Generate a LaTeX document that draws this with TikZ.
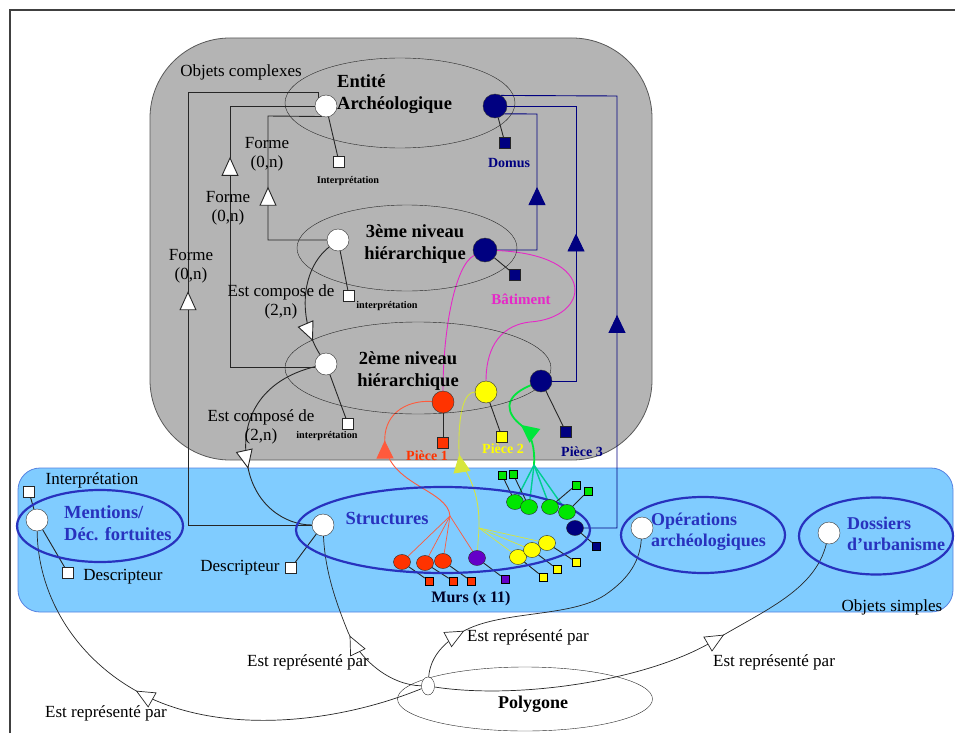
\documentclass[tikz,border=0pt]{standalone}
\usepackage{fontspec}
\setmainfont{Liberation Serif}
\usepackage{tikz}
\usetikzlibrary{shapes.geometric,arrows.meta,decorations.markings}

\definecolor{fondgris}{RGB}{180,180,180}
\definecolor{fondbleu}{RGB}{128,204,255}
\definecolor{bordbleu}{RGB}{85,130,225}
\definecolor{bleuel}{RGB}{40,50,190}
\definecolor{marine}{RGB}{0,0,128}
\definecolor{rouge}{RGB}{255,51,0}
\definecolor{rougel}{RGB}{255,90,60}
\definecolor{jaune}{RGB}{255,255,0}
\definecolor{jaunel}{RGB}{215,230,60}
\definecolor{vert}{RGB}{0,230,0}
\definecolor{vertl}{RGB}{0,205,145}
\definecolor{vertf}{RGB}{0,230,60}
\definecolor{rose}{RGB}{230,40,200}
\definecolor{violet2}{RGB}{100,0,200}

\pgfdeclarelayer{fond}
\pgfsetlayers{fond,main}

\tikzset{
  ell/.style={ellipse,draw=black!85,inner sep=0pt},
  ellb/.style={ellipse,draw=bleuel,line width=2.2pt,inner sep=0pt},
  rond/.style={circle,draw=black!80,fill=#1,minimum size=22,inner sep=0pt},
  carre/.style={rectangle,draw=black!85,fill=#1,minimum size=11,inner sep=0pt},
  pastille/.style={ellipse,draw=black!85,fill=#1,minimum width=17,minimum height=15,inner sep=0pt},
  pcarre/.style={rectangle,draw=black,fill=#1,minimum size=8,inner sep=0pt},
  lbl/.style={font=\fontsize{17}{19}\selectfont,align=center,inner sep=0pt},
  titre/.style={font=\fontsize{18.5}{22}\selectfont\bfseries,inner sep=0pt},
  minus/.style={font=\fontsize{10.2}{11}\selectfont\bfseries,inner sep=0pt},
  piece/.style={font=\fontsize{14}{15}\selectfont\bfseries,inner sep=0pt},
  lien/.style={draw=black!85,line width=0.9pt},
  lienf/.style={draw=black!85,line width=0.7pt},
  lienm/.style={draw=marine,line width=0.9pt},
  tri/.style={postaction={decorate},decoration={markings,
      mark=at position #1 with {\arrow{Triangle[fill=white,length=19pt,width=17pt]}}}},
  trip/.style={postaction={decorate},decoration={markings,
      mark=at position #1 with {\arrow{Triangle[length=18pt,width=17pt]}}}}
}

\begin{document}
\begin{tikzpicture}[x=1pt,y=-1pt]
\useasboundingbox (0,0) rectangle (955,733);

% cadre et zones
\draw[line width=1.5pt,black!75] (10,733) -- (10,10) -- (955,10);
\begin{pgfonlayer}{fond}
\draw[fill=fondgris,draw=black!65,line width=0.8pt,rounded corners=80pt] (150,38) rectangle (652,460);
\draw[fill=fondbleu,draw=bordbleu,line width=0.8pt,rounded corners=22pt] (18,468) rectangle (953,612);
\end{pgfonlayer}

% objets complexes
\node[ell,minimum width=230,minimum height=90] (eEnt) at (400,103) {};
\node[ell,minimum width=220,minimum height=86] (eN3) at (407,248) {};
\node[ell,minimum width=266,minimum height=92] (eN2) at (418,368) {};
\node[titre,anchor=west,align=left] (tEnt) at (337,94) {Entité\\Archéologique};
\node[titre,align=center] (tN3) at (415,244) {3ème niveau\\hiérarchique};
\node[titre,align=center] (tN2) at (408,371) {2ème niveau\\hiérarchique};
\node[lbl] (tComplexes) at (241,72) {Objets complexes};

\node[rond=white] (cEntW) at (326,106) {};
\node[rond=marine,minimum size=24] (cEntB) at (495,106) {};
\node[rond=white] (cN3W) at (338,240) {};
\node[rond=marine,minimum size=24] (cN3B) at (485,250) {};
\node[rond=white] (cN2W) at (326,364) {};
\node[rond=rouge] (cN2R) at (443,402) {};
\node[rond=jaune] (cN2Y) at (486,392) {};
\node[rond=marine] (cN2B) at (541,381) {};

\node[carre=white] (sEnt) at (339,162) {};
\node[carre=marine] (sEntB) at (505,143) {};
\node[carre=white] (sN3) at (349,296) {};
\node[carre=marine] (sN3B) at (515,275) {};
\node[carre=white] (sN2) at (348,424) {};
\node[carre=rouge] (sN2R) at (443,443) {};
\node[carre=jaune] (sN2Y) at (502,437) {};
\node[carre=marine] (sN2B) at (566,432) {};

\node[minus] (iEnt) at (348,181) {Interprétation};
\node[minus] (iN3) at (387,306) {interprétation};
\node[minus] (iN2) at (327,436) {interprétation};
\node[piece,text=marine] (tDomus) at (509,163) {Domus};
\node[piece,text=rose,font=\fontsize{15}{16}\selectfont\bfseries] (tBat) at (521,299) {Bâtiment};
\node[piece,text=rouge] (tP1) at (427,456) {Pièce 1};
\node[piece,text=jaune] (tP2) at (503,449) {Pièce 2};
\node[piece,text=marine] (tP3) at (582,452) {Pièce 3};

\node[lbl] (tF1) at (267,154) {Forme\\(0,n)};
\node[lbl] (tF2) at (228,208) {Forme\\(0,n)};
\node[lbl] (tF3) at (191,266) {Forme\\(0,n)};
\node[lbl] (tC1) at (281,302) {Est compose de\\(2,n)};
\node[lbl] (tC2) at (261,427) {Est composé de\\(2,n)};

% objets simples
\node[ellb,minimum width=294,minimum height=86] (eStr) at (443,530) {};
\node[ellb,minimum width=166,minimum height=72] (eMen) at (100,526) {};
\node[ellb,minimum width=164,minimum height=76] (eOp) at (703,535) {};
\node[ellb,minimum width=154,minimum height=77] (eDos) at (876,536) {};
\node[titre,text=bleuel] (tStr) at (387,518) {Structures};
\node[titre,text=bleuel,anchor=west,align=left] (tMen) at (64,523) {Mentions/\\Déc. fortuites};
\node[titre,text=bleuel,anchor=west,align=left,font=\fontsize{18}{21}\selectfont\bfseries] (tOp) at (651,532) {Opérations\\archéologiques};
\node[titre,text=bleuel,anchor=west,align=left,font=\fontsize{18}{21}\selectfont\bfseries] (tDos) at (847,534) {Dossiers\\d'urbanisme};
\node[lbl] (tSimples) at (892,607) {Objets simples};
\node[lbl] (tInterp) at (92,480) {Interprétation};
\node[lbl] (tDesc1) at (123,577) {Descripteur};
\node[lbl] (tDesc2) at (240,568) {Descripteur};
\node[font=\fontsize{16}{17}\selectfont\bfseries,text=black!85!blue,inner sep=0pt] (tMurs) at (471,599) {Murs (x 11)};

\node[rond=white] (cStr) at (323,525) {};
\node[rond=white] (cMen) at (37,520) {};
\node[rond=white] (cOp) at (642,528) {};
\node[rond=white] (cDos) at (829,533) {};
\node[carre=white] (sStr) at (291,568) {};
\node[carre=white] (sMenI) at (29,492) {};
\node[carre=white] (sMenD) at (68,573) {};

% murs
\node[pastille=rouge] (m1) at (402,562) {};
\node[pastille=rouge] (m2) at (425,563) {};
\node[pastille=rouge] (m3) at (443,561) {};
\node[pastille=violet2] (m4) at (477,558) {};
\node[pastille=jaune] (m5) at (518,557) {};
\node[pastille=jaune] (m6) at (532,550) {};
\node[pastille=jaune] (m7) at (547,543) {};
\node[pastille=vert] (g1) at (515,502) {};
\node[pastille=vert] (g2) at (529,507) {};
\node[pastille=vert] (g3) at (550,507) {};
\node[pastille=vert] (g4) at (567,512) {};
\node[pastille=marine] (n1) at (575,528) {};
\node[pcarre=rouge] (q1) at (429,581) {};
\node[pcarre=rouge] (q2) at (453,581) {};
\node[pcarre=rouge] (q3) at (471,581) {};
\node[pcarre=violet2] (q4) at (505,579) {};
\node[pcarre=jaune] (q5) at (543,577) {};
\node[pcarre=jaune] (q6) at (557,569) {};
\node[pcarre=jaune] (q7) at (576,562) {};
\node[pcarre=vert] (k1) at (502,475) {};
\node[pcarre=vert] (k2) at (513,474) {};
\node[pcarre=vert] (k3) at (576,485) {};
\node[pcarre=vert] (k4) at (588,491) {};
\node[pcarre=marine] (k5) at (596,546) {};
\coordinate (fR) at (450,516);
\coordinate (fY) at (479,528);
\coordinate (fG) at (534,465);

% polygone
\node[ell,minimum width=255,minimum height=64] (ePoly) at (525,699) {};
\node[font=\fontsize{18}{19}\selectfont\bfseries,inner sep=0pt] (tPoly) at (533,704) {Polygone};
\node[ellipse,draw=black!85,fill=white,minimum width=13,minimum height=18,inner sep=0pt] (cPoly) at (428,686) {};
\node[lbl] (tR1) at (106,713) {Est représenté par};
\node[lbl] (tR2) at (308,662) {Est représenté par};
\node[lbl] (tR3) at (528,637) {Est représenté par};
\node[lbl] (tR4) at (774,662) {Est représenté par};

\begin{pgfonlayer}{fond}
% Forme (0,n)
\draw[lien,tri=0.516] (cStr.west) -| (188,92) -| (cEntW.135);
\draw[lien,tri=0.686] (cN2W.200) -| (230,106) -- (cEntW.west);
\draw[lien,tri=0.473] (cN3W.west) -| (268,116) -- (cEntW.250);
% Est compose de
\draw[lien,tri=0.87] (cN3W) .. controls (300,270) and (298,320) .. (cN2W);
\draw[lien,tri=0.6] (cN2W) .. controls (260,380) and (240,420) .. (247,462)
      .. controls (253,505) and (285,525) .. (cStr);
% Domus
\draw[lienm,trip=0.424] (n1.east) -| (617,96) -- (cEntB.60);
\draw[lienm,trip=0.466] (cN2B.east) -| (576,106) -- (cEntB.east);
\draw[lienm,trip=0.493] (cN3B.east) -| (537,114) -- (cEntB.-40);
% Batiment
\draw[rose,line width=0.9pt] (cN3B) .. controls (455,265) and (443,330) .. (cN2R);
\draw[rose,line width=0.9pt] (cN3B) .. controls (600,255) and (590,318) .. (530,322)
      .. controls (495,326) and (486,355) .. (cN2Y);
% Pieces
\draw[rougel,line width=0.9pt,trip=0.6] (fR) .. controls (448,490) and (390,485) .. (385,445)
      .. controls (382,415) and (405,400) .. (cN2R);
\draw[jaunel,line width=0.9pt,trip=0.53] (fY) .. controls (480,480) and (460,470) .. (459,452)
      .. controls (458,410) and (465,392) .. (cN2Y);
\draw[vertf,line width=1.8pt,trip=0.45] (fG) .. controls (535,448) and (532,434) .. (521,425)
      .. controls (508,415) and (500,398) .. (cN2B);
\foreach \m in {m1,m2,m3,m4} \draw[rougel,line width=0.7pt] (fR) -- (\m);
\foreach \m in {m4,m5,m6,m7} \draw[jaunel,line width=0.7pt] (fY) -- (\m);
\foreach \m in {g1,g2,g3,g4} \draw[vertl,line width=1.4pt] (fG) -- (\m);
% attributs
\foreach \a/\b in {cEntW/sEnt,cEntB/sEntB,cN3W/sN3,cN3B/sN3B,cN2W/sN2,cN2R/sN2R,cN2Y/sN2Y,
    cN2B/sN2B,cStr/sStr,cMen/sMenI,cMen/sMenD,m1/q1,m2/q2,m3/q3,m4/q4,m5/q5,m6/q6,m7/q7,
    g1/k1,g2/k2,g3/k3,g4/k4,n1/k5}
  \draw[lien] (\a) -- (\b);
% Est represente par
\draw[lienf,tri=0.6] (cPoly) .. controls (340,722) and (230,735) .. (150,698)
      .. controls (80,665) and (38,600) .. (cMen);
\draw[lienf,tri=0.47] (cPoly) .. controls (390,685) and (360,660) .. (348,632)
      .. controls (335,600) and (325,570) .. (cStr);
\draw[lienf,tri=0.22] (cPoly) .. controls (430,660) and (440,645) .. (462,632)
      .. controls (500,610) and (570,618) .. (605,595) .. controls (630,578) and (640,560) .. (cOp);
\draw[lienf,tri=0.68] (cPoly) .. controls (520,700) and (650,680) .. (715,640)
      .. controls (765,610) and (815,590) .. (cDos);
\end{pgfonlayer}
\end{tikzpicture}
\end{document}
